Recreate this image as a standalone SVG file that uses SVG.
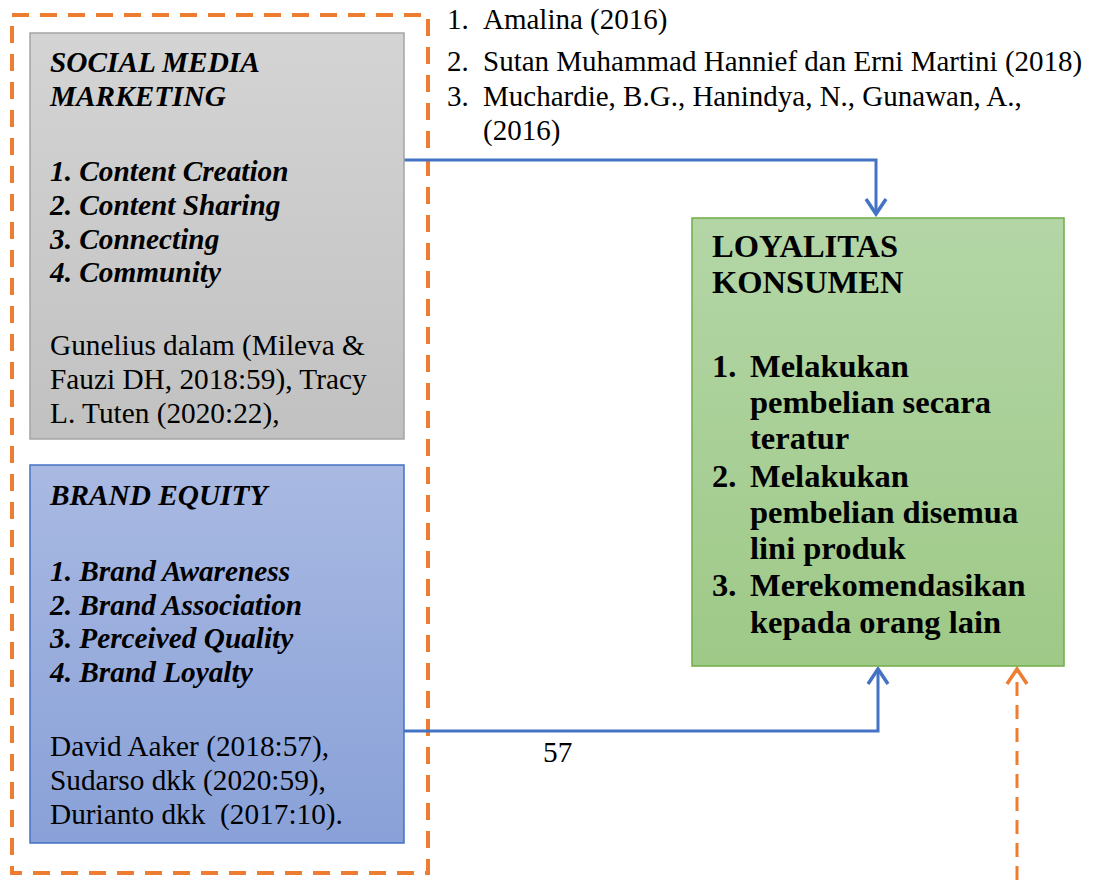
<svg xmlns="http://www.w3.org/2000/svg" width="1094" height="893" viewBox="0 0 1094 893">
<defs>
<linearGradient id="gGray" x1="0" y1="0" x2="0" y2="1"><stop offset="0" stop-color="#d4d4d4"/><stop offset="1" stop-color="#c1c1c1"/></linearGradient>
<linearGradient id="gBlue" x1="0" y1="0" x2="0" y2="1"><stop offset="0" stop-color="#a9b9e2"/><stop offset="1" stop-color="#89a1d8"/></linearGradient>
<linearGradient id="gGreen" x1="0" y1="0" x2="0" y2="1"><stop offset="0" stop-color="#b4d6a7"/><stop offset="1" stop-color="#9ec987"/></linearGradient>
<marker id="aBlue" viewBox="0 0 20 24" refX="17" refY="12" markerWidth="20" markerHeight="24" markerUnits="userSpaceOnUse" orient="auto">
<polyline points="2,2 17,12 2,22" fill="none" stroke="#4472c4" stroke-width="3.5"/>
</marker>
<marker id="aOrange" viewBox="0 0 20 24" refX="17" refY="12" markerWidth="20" markerHeight="24" markerUnits="userSpaceOnUse" orient="auto">
<polyline points="2,2 17,12 2,22" fill="none" stroke="#ed7d31" stroke-width="3.5"/>
</marker>
</defs>
<style>
text{font-family:"Liberation Serif","Times New Roman",serif;fill:#000}
.bi{font-weight:bold;font-style:italic;font-size:29.3px}
.r{font-size:29.3px}
.b{font-weight:bold;font-size:32.5px}
.ref{font-size:29px}
</style>
<rect width="1094" height="893" fill="#fff"/>
<rect id="frame" x="12" y="15" width="416" height="858" fill="none" stroke="#ed7d31" stroke-width="4" stroke-dasharray="17,11"/>
<g id="connectors" fill="none" stroke-width="3">
<polyline points="404,160 876,160 876,214" stroke="#4472c4" marker-end="url(#aBlue)"/>
<polyline points="404,731 878,731 878,669" stroke="#4472c4" marker-end="url(#aBlue)"/>
<line x1="1017" y1="880" x2="1017" y2="669" stroke="#ed7d31" stroke-dasharray="14,9" marker-end="url(#aOrange)"/>
</g>
<g id="refs">
<text class="ref" x="447" y="29">1.</text><text class="ref" x="483" y="29">Amalina (2016)</text>
<text class="ref" x="447" y="71">2.</text><text class="ref" x="483" y="71">Sutan Muhammad Hannief dan Erni Martini (2018)</text>
<text class="ref" x="447" y="106">3.</text><text class="ref" x="483" y="106">Muchardie, B.G., Hanindya, N., Gunawan, A.,</text>
<text class="ref" x="483" y="140">(2016)</text>
</g>
<g id="smm">
<rect x="30" y="33" width="374" height="406" fill="url(#gGray)" stroke="#a5a5a5" stroke-width="1.5"/>
<text class="bi" x="50" y="72">SOCIAL MEDIA</text>
<text class="bi" x="50" y="106">MARKETING</text>
<text class="bi" x="50" y="181">1. Content Creation</text>
<text class="bi" x="50" y="215">2. Content Sharing</text>
<text class="bi" x="50" y="249">3. Connecting</text>
<text class="bi" x="50" y="282">4. Community</text>
<text class="r" x="50" y="355">Gunelius dalam (Mileva &amp;</text>
<text class="r" x="50" y="389">Fauzi DH, 2018:59), Tracy</text>
<text class="r" x="50" y="423">L. Tuten (2020:22),</text>
</g>
<g id="be">
<rect x="30" y="465" width="374" height="378" fill="url(#gBlue)" stroke="#4472c4" stroke-width="1.5"/>
<text class="bi" x="50" y="505">BRAND EQUITY</text>
<text class="bi" x="50" y="581">1. Brand Awareness</text>
<text class="bi" x="50" y="615">2. Brand Association</text>
<text class="bi" x="50" y="648">3. Perceived Quality</text>
<text class="bi" x="50" y="682">4. Brand Loyalty</text>
<text class="r" x="50" y="756">David Aaker (2018:57),</text>
<text class="r" x="50" y="790">Sudarso dkk (2020:59),</text>
<text class="r" x="50" y="824" xml:space="preserve">Durianto dkk  (2017:10).</text>
</g>
<g id="lk">
<rect x="692" y="218" width="372" height="448" fill="url(#gGreen)" stroke="#70ad47" stroke-width="1.5"/>
<text class="b" x="712" y="257">LOYALITAS</text>
<text class="b" x="712" y="293">KONSUMEN</text>
<text class="b" x="712" y="377">1.</text><text class="b" x="750" y="377">Melakukan</text>
<text class="b" x="750" y="413">pembelian secara</text>
<text class="b" x="750" y="449">teratur</text>
<text class="b" x="712" y="487">2.</text><text class="b" x="750" y="487">Melakukan</text>
<text class="b" x="750" y="523">pembelian disemua</text>
<text class="b" x="750" y="559">lini produk</text>
<text class="b" x="712" y="596">3.</text><text class="b" x="750" y="596">Merekomendasikan</text>
<text class="b" x="750" y="633">kepada orang lain</text>
</g>
<text id="pg" class="r" x="543" y="762">57</text>
</svg>
